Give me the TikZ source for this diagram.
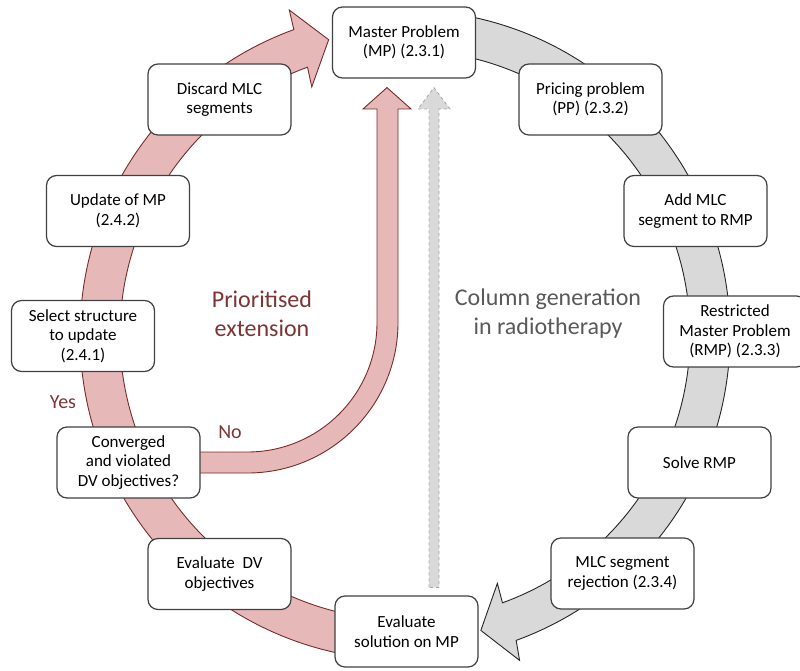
\documentclass[tikz,border=0pt]{standalone}
\usepackage{fontspec}
\setmainfont{Carlito}
\usetikzlibrary{calc,backgrounds}
\definecolor{redfill}{HTML}{E6B9B8}
\definecolor{redline}{HTML}{772C2A}
\definecolor{redtext}{HTML}{7B3535}
\definecolor{grayfill}{HTML}{D9D9D9}
\definecolor{grayline}{HTML}{A6A6A6}
\definecolor{boxline}{HTML}{404040}
\definecolor{graytext}{HTML}{595959}
\begin{document}
\begin{tikzpicture}[x=1pt,y=1pt,
  box/.style={draw=boxline, line width=1.2pt, fill=white, rounded corners=10pt,
    minimum width=143pt, minimum height=71pt, align=center, inner sep=2pt,
    font=\fontsize{17}{19.5}\selectfont},
  redarrow/.style={fill=redfill, draw=redline, line width=0.9pt, line join=miter},
  grayarrow/.style={fill=grayfill, draw=black!85, line width=0.9pt, line join=miter},
  dasharrow/.style={fill=grayfill, draw=grayline, dashed, line width=0.8pt},
  biglabel/.style={font=\fontsize{24}{29}\selectfont, align=center},
  yesno/.style={font=\fontsize{20}{24}\selectfont, text=redtext}]
\useasboundingbox (0,0) rectangle (800,670);
\clip (0,0) rectangle (800,670);

% boxes
\node[box] (mp) at (404,627.5) {Master Problem\\(MP) (2.3.1)};
\node[box] (discard) at (219.5,570.5) {Discard MLC\\segments};
\node[box] (pricing) at (590.5,570.5) {Pricing problem\\(PP) (2.3.2)};
\node[box] (update) at (118,459) {Update of MP\\(2.4.2)};
\node[box] (addmlc) at (695.5,459) {Add MLC\\segment to RMP};
\node[box] (select) at (83,334) {Select structure\\to update\\(2.4.1)};
\node[box] (rmp) at (735,338.5) {Restricted\\Master Problem\\(RMP) (2.3.3)};
\node[box] (conv) at (128.5,207.5) {Converged\\and violated\\DV objectives?};
\node[box] (solve) at (699.5,207.5) {Solve RMP};
\node[box] (evaldv) at (219.5,96) {Evaluate~ DV\\objectives};
\node[box] (rej) at (622.5,96.5) {MLC segment\\rejection (2.3.4)};
\node[box] (evalsol) at (406.5,38.5) {Evaluate\\solution on MP};

\coordinate (c) at (405,335);

\begin{pgfonlayer}{background}
% red circular arrow (prioritised extension loop)
\path[redarrow] ([shift={(275:325pt)}]c) arc[start angle=275,end angle=110,radius=325pt]
  -- ([shift={(109.6:345pt)}]c) -- ([shift={(104.5:305pt)}]c)
  -- ([shift={(110.6:265pt)}]c) -- ([shift={(110:285pt)}]c)
  arc[start angle=110,end angle=275,radius=285pt] -- cycle;
% gray circular arrow (column generation loop)
\path[grayarrow] ([shift={(80:325pt)}]c) arc[start angle=80,end angle=-70,radius=325pt]
  -- ([shift={(-70.6:345pt)}]c) -- ([shift={(-75.6:305pt)}]c)
  -- ([shift={(-69.6:265pt)}]c) -- ([shift={(-70:285pt)}]c)
  arc[start angle=-70,end angle=80,radius=285pt] -- cycle;
% "No" arrow from conv up to mp
\path[redarrow] ($(conv.east)+(-10,10.5)$) -- (247.5,218)
  arc[start angle=270,end angle=360,radius=129.5pt] -- (377,561) -- (363,561)
  -- ($(mp.south)+(-17,-9)$) -- (411,561) -- (398,561) -- (398,347.5)
  arc[start angle=0,end angle=-90,radius=150.5pt] -- ($(conv.east)+(-10,-10.5)$) -- cycle;
% dashed gray arrow from evalsol up to mp
\path[dasharrow] ($(evalsol.north)+(22.5,8)$) -- (429,561) -- (418,561)
  -- ($(mp.south)+(30,-9)$) -- (450,561) -- (439,561) -- ($(evalsol.north)+(32.5,8)$) -- cycle;
\end{pgfonlayer}

% labels
\node[biglabel, text=redtext] (prio) at (262,356) {Prioritised\\extension};
\node[biglabel, text=graytext] (colgen) at (548,356) {Column generation\\in radiotherapy};
\node[yesno] (yes) at (63,268) {Yes};
\node[yesno] (no) at (230,238) {No};
\end{tikzpicture}
\end{document}
